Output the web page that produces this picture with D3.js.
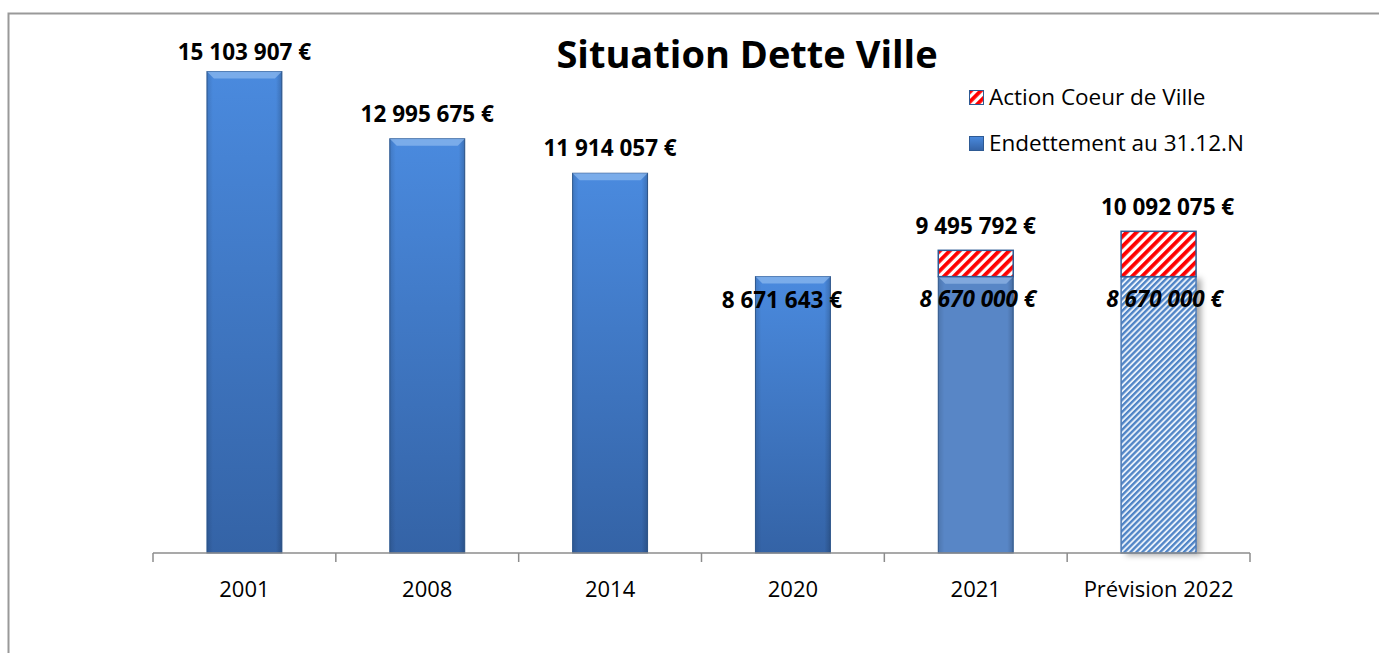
<!DOCTYPE html>
<html>
<head>
<meta charset="utf-8">
<script src="https://cdn.jsdelivr.net/npm/d3@7"></script>
<style>
  body { margin: 0; background: #fff; }
  text { font-family: "Open Sans", "Noto Sans", sans-serif; }
</style>
</head>
<body>
<div class="canva"></div>
<script>
// data
const categories = ["2001", "2008", "2014", "2020", "2021", "Prévision 2022"];
const endettement = [15103907, 12995675, 11914057, 8671643, 8670000, 8670000];
const actionCoeur = [0, 0, 0, 0, 825792, 1422075];
const seriesNames = ["Action Coeur de Ville", "Endettement au 31.12.N"];

const fr = d3.formatLocale({decimal: ",", thousands: " ", grouping: [3], currency: ["", " €"]});
const euro = fr.format("$,.0f");

const W = 1379, H = 653;
const svg = d3.select(".canva").append("svg")
    .attr("width", W)
    .attr("height", H);

// patterns + gradients
const defs = svg.append("defs");

const grad = defs.append("linearGradient").attr("id", "barGrad")
    .attr("x1", 0).attr("y1", 0).attr("x2", 0).attr("y2", 1);
grad.append("stop").attr("offset", "0%").attr("stop-color", "#4a8ade");
grad.append("stop").attr("offset", "100%").attr("stop-color", "#3463a6");

const side = defs.append("linearGradient").attr("id", "sideGrad")
    .attr("x1", 0).attr("y1", 0).attr("x2", 1).attr("y2", 0);
side.append("stop").attr("offset", "0%").attr("stop-color", "#000").attr("stop-opacity", 0.12);
side.append("stop").attr("offset", "8%").attr("stop-color", "#000").attr("stop-opacity", 0);
side.append("stop").attr("offset", "92%").attr("stop-color", "#000").attr("stop-opacity", 0);
side.append("stop").attr("offset", "100%").attr("stop-color", "#000").attr("stop-opacity", 0.18);

const red = defs.append("pattern").attr("id", "redHatch")
    .attr("patternUnits", "userSpaceOnUse").attr("width", 7).attr("height", 7)
    .attr("patternTransform", "rotate(45)");
red.append("rect").attr("width", 7).attr("height", 7).attr("fill", "#fff");
red.append("rect").attr("width", 3.8).attr("height", 7).attr("fill", "#ff0000");

const blue = defs.append("pattern").attr("id", "blueHatch")
    .attr("patternUnits", "userSpaceOnUse").attr("width", 4.2).attr("height", 4.2)
    .attr("patternTransform", "rotate(45)");
blue.append("rect").attr("width", 4.2).attr("height", 4.2).attr("fill", "#e8f0fa");
blue.append("rect").attr("width", 2.3).attr("height", 4.2).attr("fill", "#4f84c6");

const shadow = defs.append("filter").attr("id", "shadow")
    .attr("x", "-20%").attr("y", "-5%").attr("width", "150%").attr("height", "115%");
shadow.append("feDropShadow").attr("dx", 5).attr("dy", 2).attr("stdDeviation", 3)
    .attr("flood-color", "#000").attr("flood-opacity", 0.35);

// chart frame
svg.append("rect")
    .attr("x", 8.5).attr("y", 13.5)
    .attr("width", W + 20).attr("height", H + 20)
    .attr("fill", "none")
    .attr("stroke", "#999")
    .attr("stroke-width", 2);

const plot = {left: 153, right: 1250, top: 43, bottom: 553};

const x = d3.scaleBand()
    .domain(categories)
    .range([plot.left, plot.right])
    .paddingInner(0.59)
    .paddingOuter(0.295);

const y = d3.scaleLinear()
    .domain([0, 16000000])
    .range([plot.bottom, plot.top]);

const rows = categories.map((c, i) => ({cat: c, base: endettement[i], act: actionCoeur[i], i: i}));

// main bars
const bars = svg.append("g");
rows.forEach(d => {
    const x0 = x(d.cat), bw = x.bandwidth();
    const y0 = y(d.base), h = y(0) - y(d.base);
    const g = bars.append("g");
    if (d.i < 4) {
        g.append("rect").attr("x", x0).attr("y", y0).attr("width", bw).attr("height", h)
            .attr("fill", "url(#barGrad)").attr("stroke", "#2e5a94").attr("stroke-width", 1);
        g.append("rect").attr("x", x0).attr("y", y0).attr("width", bw).attr("height", h)
            .attr("fill", "url(#sideGrad)");
        // bevel on top
        g.append("path")
            .attr("d", `M${x0},${y0}L${x0 + bw},${y0}L${x0 + bw - 7},${y0 + 7}L${x0 + 7},${y0 + 7}Z`)
            .attr("fill", "#8fbaf0").attr("opacity", 0.7);
    } else if (d.i === 4) {
        g.append("rect").attr("x", x0).attr("y", y0).attr("width", bw).attr("height", h)
            .attr("fill", "#5886c6").attr("stroke", "#2e5a94").attr("stroke-width", 1);
        g.append("rect").attr("x", x0).attr("y", y0).attr("width", bw).attr("height", h)
            .attr("fill", "url(#sideGrad)");
        g.append("path")
            .attr("d", `M${x0},${y0}L${x0 + bw},${y0}L${x0 + bw - 7},${y0 + 7}L${x0 + 7},${y0 + 7}Z`)
            .attr("fill", "#9cc0ec").attr("opacity", 0.6);
    } else {
        g.append("rect").attr("x", x0).attr("y", y0).attr("width", bw).attr("height", h)
            .attr("fill", "#fff").attr("filter", "url(#shadow)");
        g.append("rect").attr("x", x0).attr("y", y0).attr("width", bw).attr("height", h)
            .attr("fill", "url(#blueHatch)").attr("stroke", "#4a78b4").attr("stroke-width", 1.5);
    }
    if (d.act > 0) {
        g.append("rect")
            .attr("x", x0).attr("y", y(d.base + d.act))
            .attr("width", bw).attr("height", y(d.base) - y(d.base + d.act))
            .attr("fill", "url(#redHatch)")
            .attr("stroke", "#2e5a94").attr("stroke-width", 1.5);
    }
});

// axis
const xAxis = d3.axisBottom(x).tickSize(0).tickPadding(0);
const axisG = svg.append("g")
    .attr("transform", `translate(0, ${plot.bottom})`)
    .call(xAxis);
axisG.select(".domain").remove();
axisG.append("line").attr("x1", plot.left).attr("x2", plot.right)
    .attr("stroke", "#8c8c8c").attr("stroke-width", 1.5);
const step = x.step();
d3.range(categories.length + 1).forEach(k => {
    axisG.append("line")
        .attr("x1", plot.left + k * step).attr("x2", plot.left + k * step)
        .attr("y1", 0).attr("y2", 9)
        .attr("stroke", "#8c8c8c").attr("stroke-width", 1.5);
});
axisG.selectAll(".tick text")
    .attr("y", 44)
    .attr("dy", 0)
    .attr("fill", "#000")
    .style("font-size", "22px")
    .style("font-family", "'Open Sans', sans-serif");

// value labels
const labels = svg.append("g")
    .attr("text-anchor", "middle")
    .style("font-weight", "bold")
    .style("font-size", "22.5px");

rows.forEach(d => {
    const cx = x(d.cat) + x.bandwidth() / 2;
    const total = d.base + d.act;
    if (d.i < 3) {
        labels.append("text").attr("x", cx).attr("y", Math.max(y(total) - 17, 60)).text(euro(total));
    } else if (d.i === 3) {
        labels.append("text").attr("x", cx - 11).attr("y", y(total) + 31).text(euro(total));
    } else {
        labels.append("text").attr("x", cx + (d.i === 5 ? 9 : 0)).attr("y", y(total) - 16).text(euro(total));
        labels.append("text").attr("x", cx + (d.i === 5 ? 6 : 2)).attr("y", y(d.base) + 30)
            .style("font-style", "italic").text(euro(d.base));
    }
});

// title
svg.append("text")
    .attr("x", 747).attr("y", 68)
    .attr("text-anchor", "middle")
    .style("font-size", "38px")
    .style("font-weight", "bold")
    .text("Situation Dette Ville");

// legend
const legend = svg.append("g").attr("transform", "translate(969, 90)");
seriesNames.forEach((name, k) => {
    const lg = legend.append("g").attr("transform", `translate(0, ${k * 46})`);
    lg.append("rect").attr("x", 0.5).attr("y", 0.5).attr("width", 14).attr("height", 14)
        .attr("fill", k === 0 ? "url(#redHatch)" : "url(#barGrad)")
        .attr("stroke", "#2e5a94").attr("stroke-width", 1);
    lg.append("text").attr("x", 20).attr("y", 15)
        .style("font-size", "22.5px")
        .text(name);
});
</script>
</body>
</html>
